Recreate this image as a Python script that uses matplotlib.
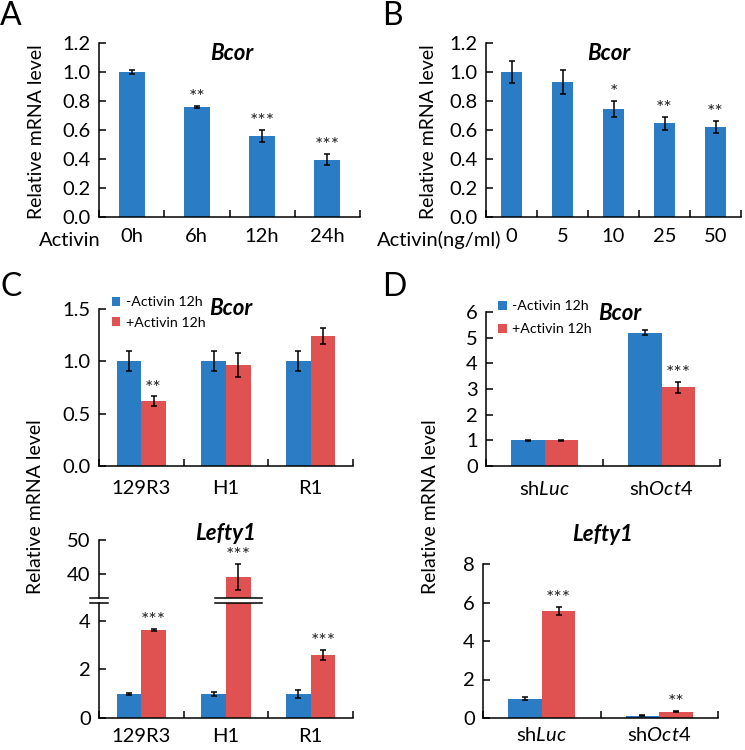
import matplotlib
matplotlib.use("Agg")
import matplotlib.pyplot as plt
import numpy as np
from matplotlib.transforms import blended_transform_factory

plt.rcParams['font.family'] = ['Lato', 'DejaVu Sans']
plt.rcParams['mathtext.fontset'] = 'custom'
plt.rcParams['mathtext.rm'] = 'Lato'
plt.rcParams['mathtext.it'] = 'Lato:italic'

BLUE = '#2a7dc4'
RED = '#e05252'

# ---------------- data ----------------
A_labels = ['0h', '6h', '12h', '24h']
A_vals = [1.0, 0.76, 0.56, 0.395]
A_err = [0.016, 0.008, 0.042, 0.038]
A_sig = ['', '**', '***', '***']

B_labels = ['0', '5', '10', '25', '50']
B_vals = [1.0, 0.93, 0.745, 0.645, 0.62]
B_err = [0.075, 0.085, 0.055, 0.045, 0.042]
B_sig = ['', '', '*', '**', '**']

C_labels = ['129R3', 'H1', 'R1']
C_bcor_minus = [1.0, 1.0, 1.0]
C_bcor_minus_err = [0.095, 0.095, 0.095]
C_bcor_plus = [0.62, 0.965, 1.24]
C_bcor_plus_err = [0.045, 0.11, 0.075]
C_bcor_sig = ['**', '', '']
C_lefty_minus = [1.0, 1.0, 1.0]
C_lefty_minus_err = [0.04, 0.09, 0.17]
C_lefty_plus = [3.63, 39.2, 2.6]
C_lefty_plus_err = [0.05, 3.8, 0.2]
C_lefty_sig = ['***', '***', '***']

D_labels = [r'sh$\mathit{Luc}$', r'sh$\mathit{Oct4}$']
D_bcor_minus = [1.0, 5.2]
D_bcor_minus_err = [0.03, 0.09]
D_bcor_plus = [1.0, 3.07]
D_bcor_plus_err = [0.03, 0.21]
D_bcor_sig = ['', '***']
D_lefty_minus = [1.0, 0.12]
D_lefty_minus_err = [0.08, 0.03]
D_lefty_plus = [5.55, 0.33]
D_lefty_plus_err = [0.22, 0.04]
D_lefty_sig = ['***', '**']

legend_labels = ['-Activin 12h', '+Activin 12h']

W, H = 745, 750
fig = plt.figure(figsize=(W / 100, H / 100), dpi=100)

TICK_FS = 14.5
TITLE_FS = 16
STAR_FS = 14
YLAB_FS = 14
LEG_FS = 10.2


def add_ax(l, t, r, b):
    return fig.add_axes([l / W, 1 - b / H, (r - l) / W, (b - t) / H])


def style(ax, ncat, labels, yticks, ylim, show_bottom=True, label_pad=9):
    ax.set_xlim(-0.5, ncat - 0.5)
    ax.set_ylim(*ylim)
    for s in ['top', 'right']:
        ax.spines[s].set_visible(False)
    for s in ['left', 'bottom']:
        ax.spines[s].set_linewidth(1.1)
    ax.set_yticks(yticks)
    ax.tick_params(axis='y', direction='in', length=5, width=1.1, labelsize=TICK_FS, pad=6)
    if show_bottom:
        ax.set_xticks(np.arange(ncat + 1) - 0.5)
        ax.set_xticklabels([])
        ax.set_xticks(np.arange(ncat), minor=True)
        ax.set_xticklabels(labels, minor=True)
        ax.tick_params(axis='x', which='major', direction='in', length=5, width=1.1)
        ax.tick_params(axis='x', which='minor', length=0, labelsize=TICK_FS, pad=label_pad)
    else:
        ax.spines['bottom'].set_visible(False)
        ax.set_xticks([])


def stars(ax, xs, tops, sigs, size=STAR_FS):
    for x, t, s in zip(xs, tops, sigs):
        if s:
            ax.annotate(s, (x, t), xytext=(0, 2), textcoords='offset points',
                        ha='center', va='baseline', fontsize=size, color='#222222')


def title(ax, x, y, s):
    ax.text(x, y, s, transform=ax.transAxes, ha='center', va='center',
            fontsize=TITLE_FS, fontweight='bold', fontstyle='italic')


ekw = dict(ecolor='black', elinewidth=1.1, capsize=2.5, capthick=1.1)

# ---------------- Panel A ----------------
axA = add_ax(99, 43, 360, 217)
xa = np.arange(len(A_vals))
axA.bar(xa, A_vals, 0.4, color=BLUE, yerr=A_err, error_kw=ekw)
style(axA, len(A_vals), A_labels, np.arange(0, 1.21, 0.2), (0, 1.2), label_pad=8)
axA.set_yticklabels([f'{v:.1f}' for v in np.arange(0, 1.21, 0.2)])
stars(axA, xa, np.array(A_vals) + np.array(A_err), A_sig)
title(axA, 0.51, 0.94, 'Bcor')
fig.text(37 / W, 1 - 132 / H, 'Relative mRNA level', rotation=90, ha='center', va='center',
         fontsize=YLAB_FS)
fig.text(70 / W, 1 - 240 / H, 'Activin', ha='center', va='center', fontsize=TICK_FS)

# ---------------- Panel B ----------------
axB = add_ax(486, 43, 741, 217)
xb = np.arange(len(B_vals))
axB.bar(xb, B_vals, 0.41, color=BLUE, yerr=B_err, error_kw=ekw)
style(axB, len(B_vals), B_labels, np.arange(0, 1.21, 0.2), (0, 1.2), label_pad=8)
axB.set_yticklabels([f'{v:.1f}' for v in np.arange(0, 1.21, 0.2)])
stars(axB, xb, np.array(B_vals) + np.array(B_err), B_sig)
title(axB, 0.48, 0.94, 'Bcor')
fig.text(428 / W, 1 - 132 / H, 'Relative mRNA level', rotation=90, ha='center', va='center',
         fontsize=YLAB_FS)
fig.text(501 / W, 1 - 240 / H, 'Activin(ng/ml)', ha='right', va='center', fontsize=TICK_FS)

# ---------------- Panel C top ----------------
bw = 0.29
axC1 = add_ax(99, 309, 353, 466)
xc = np.arange(len(C_labels))
b1 = axC1.bar(xc - bw / 2, C_bcor_minus, bw, color=BLUE, yerr=C_bcor_minus_err, error_kw=ekw)
b2 = axC1.bar(xc + bw / 2, C_bcor_plus, bw, color=RED, yerr=C_bcor_plus_err, error_kw=ekw)
style(axC1, 3, C_labels, [0, 0.5, 1.0, 1.5], (0, 1.5), label_pad=10)
axC1.set_yticklabels(['0.0', '0.5', '1.0', '1.5'])
stars(axC1, xc + bw / 2, np.array(C_bcor_plus) + np.array(C_bcor_plus_err), C_bcor_sig)
title(axC1, 0.52, 1.0, 'Bcor')
axC1.legend([b1, b2], legend_labels, loc='upper left', bbox_to_anchor=(112 / W, 1 - 296 / H),
            bbox_transform=fig.transFigure, frameon=False, fontsize=LEG_FS,
            handlelength=0.6, handleheight=0.6, handletextpad=0.4, labelspacing=0.6,
            borderpad=0, borderaxespad=0)

# ---------------- Panel C bottom (broken axis) ----------------
axC2u = add_ax(99, 540, 353, 598)
axC2l = add_ax(99, 603, 353, 718)
for ax in (axC2u, axC2l):
    ax.bar(xc - bw / 2, C_lefty_minus, bw, color=BLUE, yerr=C_lefty_minus_err, error_kw=ekw)
    ax.bar(xc + bw / 2, C_lefty_plus, bw, color=RED, yerr=C_lefty_plus_err, error_kw=ekw)
style(axC2u, 3, C_labels, [40, 50], (32.9, 50), show_bottom=False)
style(axC2l, 3, C_labels, [0, 2, 4], (0, 4.74), label_pad=7)
lower_mask = [v < 4.74 for v in C_lefty_plus]
stars(axC2l, xc[lower_mask] + bw / 2,
      (np.array(C_lefty_plus) + np.array(C_lefty_plus_err))[lower_mask],
      [s for s, m in zip(C_lefty_sig, lower_mask) if m])
upper_mask = [not m for m in lower_mask]
stars(axC2u, xc[upper_mask] + bw / 2,
      (np.array(C_lefty_plus) + np.array(C_lefty_plus_err))[upper_mask],
      [s for s, m in zip(C_lefty_sig, upper_mask) if m])
title(axC2u, 0.50, 1.12, 'Lefty1')
# break marks
for ax, yy in ((axC2u, 0.0), (axC2l, 1.0)):
    ax.plot([-0.035, 0.035], [yy, yy], transform=ax.transAxes, color='black',
            lw=1.1, clip_on=False)
    tr = blended_transform_factory(ax.transData, ax.transAxes)
    for xi, m in zip(xc, upper_mask):
        if m:
            ax.plot([xi + bw / 2 - 0.28, xi + bw / 2 + 0.28], [yy, yy], transform=tr,
                    color='black', lw=1.1, clip_on=False)
fig.text(36 / W, 1 - 507 / H, 'Relative mRNA level', rotation=90, ha='center', va='center',
         fontsize=YLAB_FS)

# ---------------- Panel D top ----------------
bwd = 0.287
axD1 = add_ax(486, 312, 720, 466)
xd = np.arange(len(D_labels))
d1 = axD1.bar(xd - bwd / 2, D_bcor_minus, bwd, color=BLUE, yerr=D_bcor_minus_err, error_kw=ekw)
d2 = axD1.bar(xd + bwd / 2, D_bcor_plus, bwd, color=RED, yerr=D_bcor_plus_err, error_kw=ekw)
style(axD1, 2, D_labels, np.arange(0, 7, 1), (0, 6), label_pad=10)
stars(axD1, xd + bwd / 2, np.array(D_bcor_plus) + np.array(D_bcor_plus_err), D_bcor_sig)
title(axD1, 0.57, 0.99, 'Bcor')
axD1.legend([d1, d2], legend_labels, loc='upper left', bbox_to_anchor=(498 / W, 1 - 300 / H),
            bbox_transform=fig.transFigure, frameon=False, fontsize=LEG_FS,
            handlelength=0.6, handleheight=0.6, handletextpad=0.4, labelspacing=0.8,
            borderpad=0, borderaxespad=0)

# ---------------- Panel D bottom ----------------
axD2 = add_ax(483, 564, 718, 718)
axD2.bar(xd - bwd / 2, D_lefty_minus, bwd, color=BLUE, yerr=D_lefty_minus_err, error_kw=ekw)
axD2.bar(xd + bwd / 2, D_lefty_plus, bwd, color=RED, yerr=D_lefty_plus_err, error_kw=ekw)
style(axD2, 2, D_labels, [0, 2, 4, 6, 8], (0, 8), label_pad=6)
stars(axD2, xd + bwd / 2, np.array(D_lefty_plus) + np.array(D_lefty_plus_err), D_lefty_sig)
title(axD2, 0.51, 1.19, 'Lefty1')
fig.text(430 / W, 1 - 507 / H, 'Relative mRNA level', rotation=90, ha='center', va='center',
         fontsize=YLAB_FS)

# ---------------- panel letters ----------------
for ch, x, y in (('A', 0, 16), ('B', 382, 16), ('C', 0, 287), ('D', 382, 287)):
    fig.text(x / W, 1 - y / H, ch, ha='left', va='center', fontsize=23)

fig.savefig('out.png', dpi=100)
